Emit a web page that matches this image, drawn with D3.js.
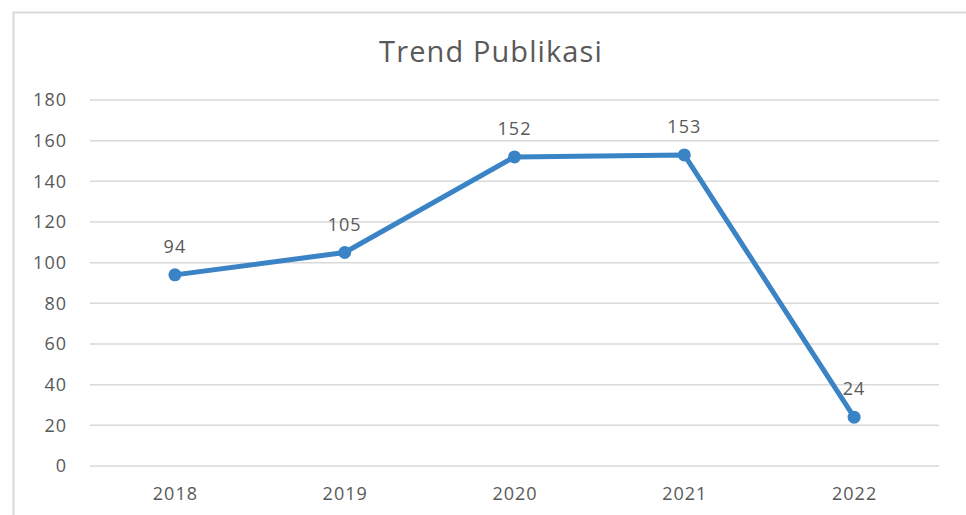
<!DOCTYPE html>
<html>
<head>
<meta charset="utf-8">
<script src="https://cdn.jsdelivr.net/npm/d3@7"></script>
<style>
  body { margin: 0; background: #fff; }
  text { font-family: "Open Sans", sans-serif; fill: #595959; }
</style>
</head>
<body>
<div id="chart"></div>
<script>
// Data
var years = ["2018", "2019", "2020", "2021", "2022"];
var counts = [94, 105, 152, 153, 24];
var yTicks = [0, 20, 40, 60, 80, 100, 120, 140, 160, 180];

var W = 966, H = 515;
var margin = {top: 100, right: 27, bottom: 49, left: 90},
    width = W - margin.left - margin.right,
    height = H - margin.top - margin.bottom;

var svg = d3.select("#chart")
  .append("svg")
    .attr("width", W)
    .attr("height", H);

// Chart frame (only left and top edges are visible in the crop)
svg.append("path")
    .attr("d", "M13.5," + H + "V12.5H" + W)
    .attr("fill", "none")
    .attr("stroke", "#d9d9de")
    .attr("stroke-width", 2);

// Title
svg.append("text")
    .attr("x", 491)
    .attr("y", 62)
    .attr("text-anchor", "middle")
    .style("font-size", "29px")
    .style("letter-spacing", "1.1px")
    .text("Trend Publikasi");

var g = svg.append("g")
    .attr("transform", "translate(" + margin.left + "," + margin.top + ")");

// Scales
var x = d3.scalePoint()
    .domain(years)
    .range([0, width])
    .padding(0.5);

var y = d3.scaleLinear()
    .domain([0, 180])
    .range([height, 0]);

// Gridlines
g.append("g")
    .selectAll("line")
    .data(yTicks)
    .join("line")
      .attr("x1", 0)
      .attr("x2", width)
      .attr("y1", function(d) { return y(d); })
      .attr("y2", function(d) { return y(d); })
      .attr("stroke", "#d9d9d9")
      .attr("stroke-width", 1.5);

// Y axis labels
var yAxis = g.append("g")
    .call(d3.axisLeft(y).tickValues(yTicks).tickSize(0).tickPadding(23));
yAxis.select(".domain").remove();
yAxis.selectAll("text")
    .style("font-size", "18px")
    .style("letter-spacing", "1px")
    .style("font-family", "'Open Sans', sans-serif")
    .attr("fill", "#595959");

// X axis labels
var xAxis = g.append("g")
    .attr("transform", "translate(0," + height + ")")
    .call(d3.axisBottom(x).tickSize(0).tickPadding(21));
xAxis.select(".domain").remove();
xAxis.selectAll("text")
    .style("font-size", "18px")
    .style("letter-spacing", "1px")
    .style("font-family", "'Open Sans', sans-serif")
    .attr("fill", "#595959");

var data = years.map(function(yr, i) { return {year: yr, count: counts[i]}; });

// Line
var line = d3.line()
    .x(function(d) { return x(d.year); })
    .y(function(d) { return y(d.count); });

g.append("path")
    .datum(data)
    .attr("fill", "none")
    .attr("stroke", "#3a84c6")
    .attr("stroke-width", 5)
    .attr("stroke-linejoin", "round")
    .attr("d", line);

// Markers
g.selectAll("circle")
    .data(data)
    .join("circle")
      .attr("cx", function(d) { return x(d.year); })
      .attr("cy", function(d) { return y(d.count); })
      .attr("r", 6.5)
      .attr("fill", "#3a84c6");

// Data labels
g.selectAll(".lbl")
    .data(data)
    .join("text")
      .attr("class", "lbl")
      .attr("x", function(d) { return x(d.year); })
      .attr("y", function(d) { return y(d.count) - 22; })
      .attr("text-anchor", "middle")
      .style("font-size", "18px")
      .style("letter-spacing", "1px")
      .text(function(d) { return d.count; });
</script>
</body>
</html>
